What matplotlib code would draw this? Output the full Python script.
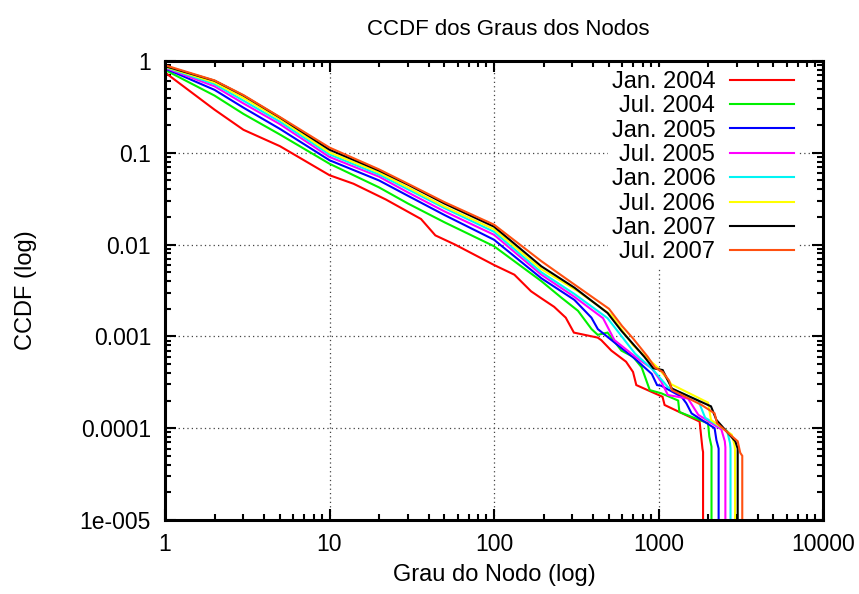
import matplotlib
matplotlib.use('Agg')
import matplotlib.pyplot as plt
from matplotlib.ticker import FixedLocator, FixedFormatter, LogLocator, NullFormatter

plt.rcParams['font.family'] = ['Liberation Sans', 'DejaVu Sans']

# ---- data ----
labels = ["Jan. 2004", "Jul. 2004", "Jan. 2005", "Jul. 2005",
          "Jan. 2006", "Jul. 2006", "Jan. 2007", "Jul. 2007"]
colors = ["#ff0000", "#00f000", "#0000ff", "#ff00ff",
          "#00f4f4", "#ffff00", "#000000", "#ff5010"]

deg_jan04 = [1, 2, 3, 5, 10, 14, 22, 36, 44, 58, 100, 133, 168, 194, 232, 273, 306,
             427, 449, 517, 635, 700, 733, 1058, 1089, 1778, 1850, 1866, 1866]
ccdf_jan04 = [0.75, 0.295, 0.178, 0.118, 0.057, 0.046, 0.031, 0.019, 0.0126, 0.0100,
              0.0060, 0.0047, 0.0031, 0.0026, 0.0021, 0.0016, 0.0011, 0.00097, 0.00091,
              0.00070, 0.00053, 0.00041, 0.000295, 0.00022, 0.000179, 0.000118, 6.0e-5,
              5.5e-5, 0]

deg_jul04 = [1, 2, 3, 5, 10, 20, 30, 50, 100, 194, 253, 324, 392, 427, 490, 595, 700,
             790, 885, 1040, 1317, 1340, 2000, 2037, 2100, 2100]
ccdf_jul04 = [0.80, 0.42, 0.265, 0.158, 0.076, 0.042, 0.028, 0.0175, 0.0096, 0.0040,
              0.0027, 0.0019, 0.0012, 0.00104, 0.0011, 0.00070, 0.00060, 0.00046,
              0.00026, 0.00024, 0.00020, 0.00015, 0.000113, 8.1e-5, 6.3e-5, 0]

deg_jan05 = [1, 2, 3, 5, 10, 20, 30, 50, 100, 194, 308, 391, 428, 567, 720, 910, 980,
             1040, 1380, 1476, 1589, 2193, 2250, 2320, 2320]
ccdf_jan05 = [0.83, 0.485, 0.31, 0.182, 0.083, 0.050, 0.034, 0.021, 0.0113, 0.0043,
              0.0025, 0.0016, 0.0012, 0.00080, 0.00057, 0.00039, 0.000295, 0.00029,
              0.00022, 0.000187, 0.000145, 0.000100, 7.4e-5, 6.0e-5, 0]

deg_jul05 = [1, 2, 3, 5, 10, 20, 30, 50, 100, 194, 308, 460, 540, 750, 910, 1040,
             1140, 1513, 1745, 2410, 2530, 2550, 2550]
ccdf_jul05 = [0.845, 0.53, 0.345, 0.205, 0.090, 0.055, 0.037, 0.023, 0.0128, 0.0047,
              0.0027, 0.00158, 0.00091, 0.00057, 0.00045, 0.00032, 0.00023, 0.00021,
              0.00014, 9.7e-5, 7.2e-5, 6.2e-5, 0]

deg_jan06 = [1, 2, 3, 5, 10, 20, 30, 50, 100, 194, 308, 490, 720, 930, 1140, 1745,
             1921, 2615, 2720, 2740, 2740]
ccdf_jan06 = [0.86, 0.56, 0.37, 0.218, 0.096, 0.058, 0.040, 0.025, 0.0138, 0.0050,
              0.0029, 0.00158, 0.00065, 0.00043, 0.00028, 0.00020, 0.00013, 9.3e-5,
              6.9e-5, 6.0e-5, 0]

deg_jul06 = [1, 2, 3, 5, 10, 20, 30, 50, 100, 194, 324, 517, 700, 1000, 1200, 2000,
             2085, 2790, 2900, 2920, 2920]
ccdf_jul06 = [0.87, 0.585, 0.395, 0.232, 0.101, 0.061, 0.042, 0.026, 0.0147, 0.0054,
              0.0031, 0.0017, 0.00080, 0.00045, 0.00030, 0.00019, 0.000123, 8.5e-5,
              6.5e-5, 5.8e-5, 0]

deg_jan07 = [1, 2, 3, 5, 10, 20, 30, 50, 100, 194, 308, 490, 595, 820, 930, 1060,
             1207, 2085, 2250, 2930, 3030, 3030]
ccdf_jan07 = [0.88, 0.61, 0.42, 0.242, 0.108, 0.064, 0.045, 0.028, 0.0157, 0.0058,
              0.0034, 0.0018, 0.00115, 0.00060, 0.00045, 0.00043, 0.00027, 0.000173,
              0.000123, 7.2e-5, 6.0e-5, 0]

deg_jul07 = [1, 2, 3, 5, 10, 20, 30, 50, 100, 194, 300, 500, 600, 700, 860, 950, 1060,
             1160, 1207, 1820, 2193, 2270, 3030, 3140, 3230, 3230]
ccdf_jul07 = [0.90, 0.615, 0.425, 0.245, 0.114, 0.066, 0.046, 0.029, 0.0165, 0.0066,
              0.0038, 0.0020, 0.0013, 0.00095, 0.00060, 0.00046, 0.00041, 0.00033,
              0.00026, 0.00018, 0.000145, 0.000113, 7.2e-5, 5.4e-5, 5.0e-5, 0]

degrees = [deg_jan04, deg_jul04, deg_jan05, deg_jul05,
           deg_jan06, deg_jul06, deg_jan07, deg_jul07]
ccdfs = [ccdf_jan04, ccdf_jul04, ccdf_jan05, ccdf_jul05,
         ccdf_jan06, ccdf_jul06, ccdf_jan07, ccdf_jul07]

x_ticks = [1, 10, 100, 1000, 10000]
x_ticklabels = ["1", "10", "100", "1000", "10000"]
y_ticks = [1e-5, 1e-4, 1e-3, 1e-2, 1e-1, 1]
y_ticklabels = ["1e-005", "0.0001", "0.001", "0.01", "0.1", "1"]

FS = 16.5
FS_BIG = 17

# ---- figure ----
fig = plt.figure(figsize=(8.59, 5.94), dpi=100)
ax = fig.add_axes([165 / 859, 1 - 520 / 594, (823 - 165) / 859, (520 - 61) / 594])
ax.set_xscale('log', nonpositive='clip')
ax.set_yscale('log', nonpositive='clip')

for d, c, lab, col in zip(degrees, ccdfs, labels, colors):
    ax.plot(d, c, color=col, lw=1.5, label=lab, solid_joinstyle='miter')

ax.set_xlim(1, 10000)
ax.set_ylim(1e-5, 1)

ax.xaxis.set_major_locator(FixedLocator(x_ticks))
ax.xaxis.set_major_formatter(FixedFormatter(x_ticklabels))
ax.xaxis.set_minor_locator(LogLocator(base=10, subs=range(2, 10), numticks=20))
ax.xaxis.set_minor_formatter(NullFormatter())
ax.yaxis.set_major_locator(FixedLocator(y_ticks))
ax.yaxis.set_major_formatter(FixedFormatter(y_ticklabels))
ax.yaxis.set_minor_locator(LogLocator(base=10, subs=range(2, 10), numticks=20))
ax.yaxis.set_minor_formatter(NullFormatter())

ax.tick_params(which='both', direction='in', top=True, right=True, labelsize=FS)
ax.tick_params(which='major', length=8, width=1.5)
ax.tick_params(which='minor', length=4, width=1.5)
ax.tick_params(axis='x', which='major', pad=9.5)
ax.tick_params(axis='y', which='major', pad=10)
for s in ax.spines.values():
    s.set_linewidth(2.2)

ax.grid(True, which='major', color='#444444', linestyle=(0, (1, 2.5)), linewidth=0.9)
ax.set_axisbelow(True)

ax.set_title("CCDF dos Graus dos Nodos", fontsize=16, pad=19, x=0.521)
ax.set_xlabel("Grau do Nodo (log)", fontsize=FS_BIG)
ax.set_ylabel("CCDF (log)", fontsize=FS_BIG)
ax.xaxis.set_label_coords(0.5, -0.095)
ax.yaxis.set_label_coords(-0.195, 0.5)

leg = ax.legend(loc='upper right', bbox_to_anchor=(0.962, 0.986), markerfirst=False,
                frameon=True, framealpha=1, facecolor='white', edgecolor='none',
                fancybox=False, fontsize=FS_BIG, handlelength=2.75, handletextpad=0.6,
                labelspacing=0.1, borderpad=0.15, borderaxespad=0)

fig.savefig("out.png", dpi=100)
